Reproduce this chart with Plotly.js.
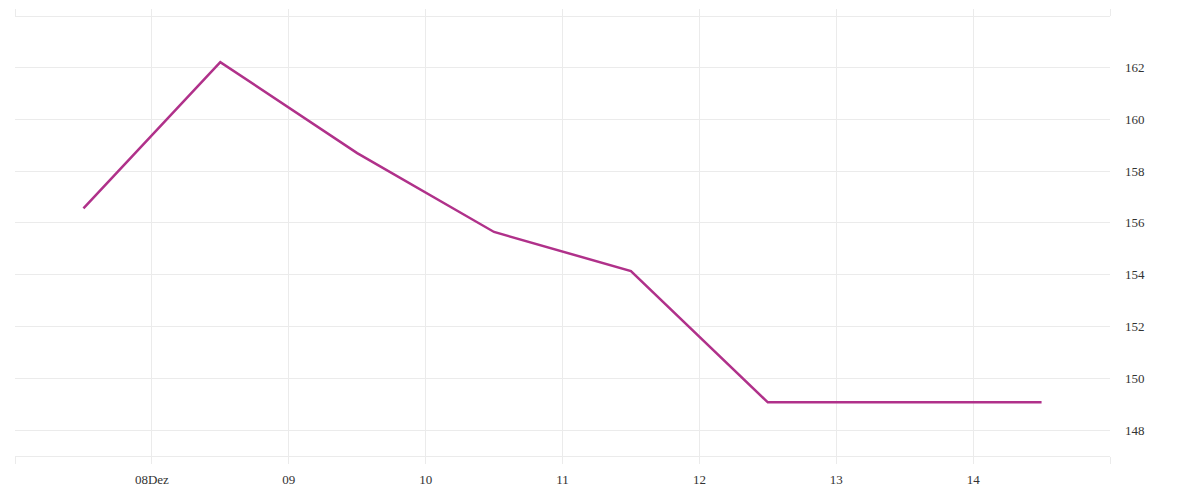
<!DOCTYPE html>
<html>
<head>
<meta charset="utf-8">
<script src="https://cdn.plot.ly/plotly-3.0.1.min.js"></script>
<style>html,body{margin:0;padding:0;background:#fff;}#chart{width:1200px;height:500px;}</style>
</head>
<body>
<div id="chart"></div>
<script>
const dates = ['2023-12-07 12:00','2023-12-08 12:00','2023-12-09 12:00','2023-12-10 12:00','2023-12-11 12:00','2023-12-12 12:00','2023-12-13 12:00','2023-12-14 12:00'];
const values = [156.56, 162.2, 158.69, 155.65, 154.14, 149.08, 149.08, 149.08];
const tickDates = ['2023-12-07','2023-12-08','2023-12-09','2023-12-10','2023-12-11','2023-12-12','2023-12-13','2023-12-14','2023-12-15'];
const tickLabels = ['','08Dez','09','10','11','12','13','14',''];
const yTicks = [148,150,152,154,156,158,160,162];

const grid = '#ebebeb';
const trace = {
  x: dates, y: values, type: 'scatter', mode: 'lines',
  line: {color: '#b0318a', width: 2.5},
  hoverinfo: 'x+y'
};
const layout = {
  width: 1200, height: 500,
  margin: {l: 15, r: 90, t: 17, b: 44},
  paper_bgcolor: '#fff', plot_bgcolor: '#fff',
  showlegend: false,
  font: {family: '"Liberation Serif", serif', size: 13, color: '#333333'},
  xaxis: {
    type: 'date',
    range: ['2023-12-07', '2023-12-15'],
    tickmode: 'array', tickvals: tickDates, ticktext: tickLabels,
    showgrid: true, gridcolor: grid, gridwidth: 1,
    ticks: 'outside', ticklen: 7, tickcolor: grid, tickwidth: 1,
    showline: true, linecolor: grid, linewidth: 1, mirror: 'allticks',
    ticklabelstandoff: 4,
    zeroline: false,
    tickfont: {family: '"Liberation Serif", serif', size: 13, color: '#333333'}
  },
  yaxis: {
    side: 'right',
    range: [147.01, 163.94],
    tickmode: 'array', tickvals: yTicks,
    showgrid: true, gridcolor: grid, gridwidth: 1,
    ticks: '', showline: false,
    zeroline: false,
    ticklabelstandoff: 14,
    tickfont: {family: '"Liberation Serif", serif', size: 13, color: '#333333'}
  }
};
Plotly.newPlot('chart', [trace], layout, {displayModeBar: false, staticPlot: true});
</script>
</body>
</html>
